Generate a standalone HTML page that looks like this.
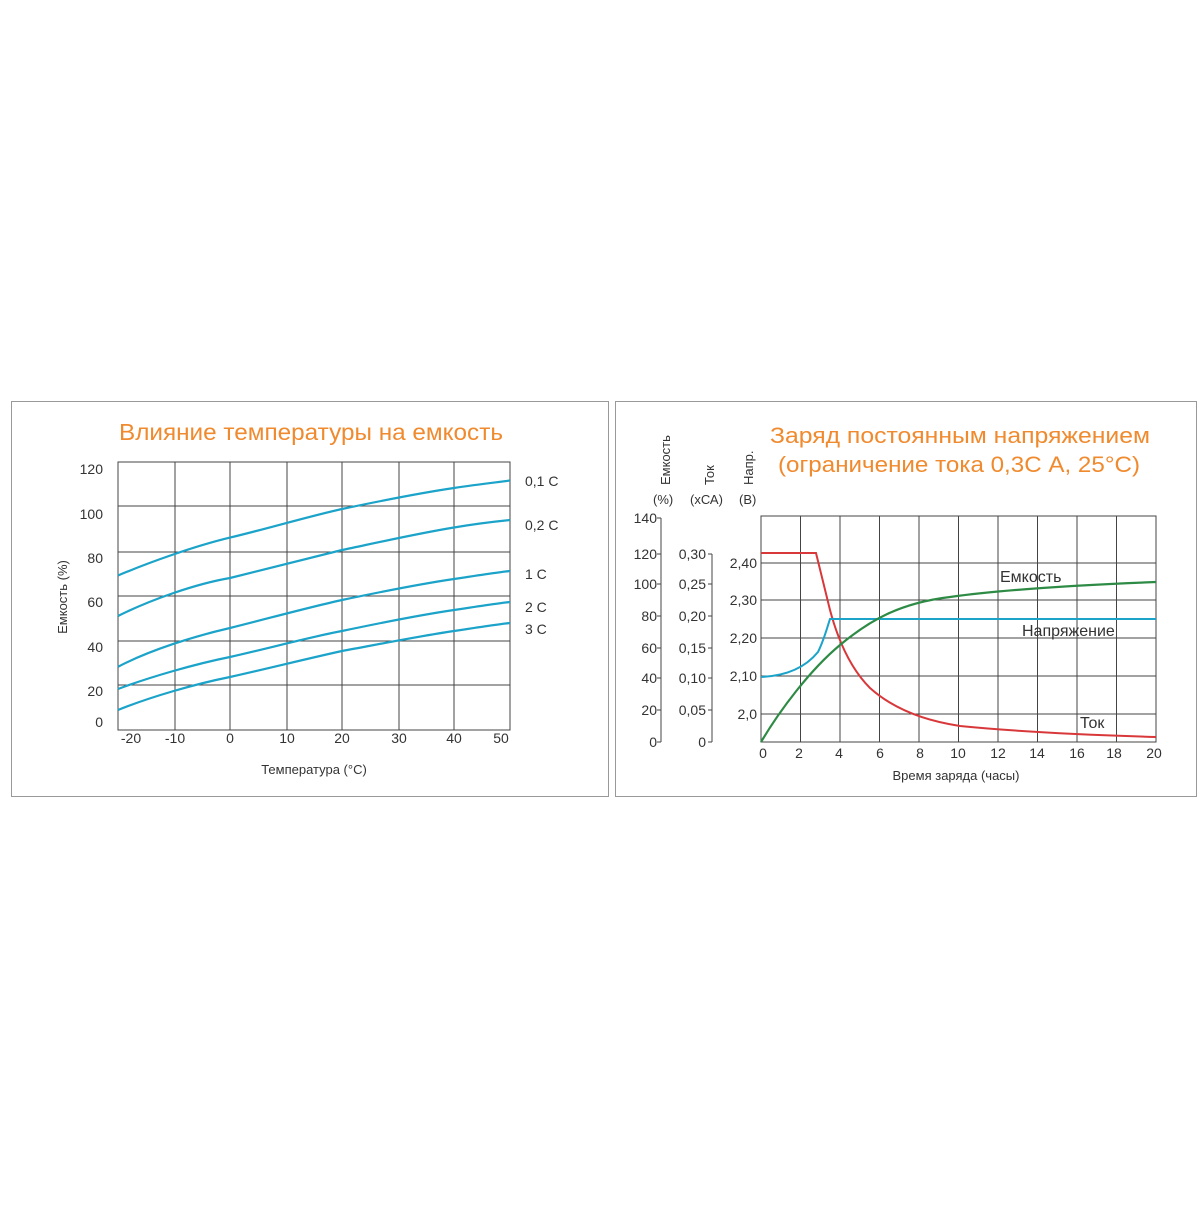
<!DOCTYPE html>
<html><head><meta charset="utf-8"><style>html,body{margin:0;padding:0;background:#fff}</style></head>
<body>
<svg width="1200" height="1200" viewBox="0 0 1200 1200" xmlns="http://www.w3.org/2000/svg" font-family="Liberation Sans, DejaVu Sans, sans-serif" fill="#333">
<rect x="11.5" y="401.5" width="597" height="395" fill="none" stroke="#999"/>
<rect x="615.5" y="401.5" width="581" height="395" fill="none" stroke="#999"/>
<text x="119" y="440" font-size="23" fill="#F08A2E" textLength="384" lengthAdjust="spacingAndGlyphs">Влияние температуры на емкость</text>
<g stroke="#444" stroke-width="1" fill="none">
<rect x="118" y="462" width="392" height="268"/>
<path d="M175 462V730M230 462V730M287 462V730M342 462V730M399 462V730M454 462V730"/>
<path d="M118 506H510M118 552H510M118 596H510M118 641H510M118 685H510"/>
</g>
<g stroke="#1ba3c9" stroke-width="2.2" fill="none">
<path d="M118 575.5C150 562 195 546 230 537.6C270 528 310 516 342 509C380 501 420 493 454 488C480 484 500 482 510 480.5"/>
<path d="M118 616C150 600 195 584 230 578C270 568 310 558 342 550C380 542 420 533 454 527.5C480 523 500 521 510 520"/>
<path d="M118 666.8C150 650 195 636 230 628C270 618 310 607 342 600C380 592 420 584 454 579C480 575 500 572 510 571"/>
<path d="M118 689C150 677 195 664 230 657C270 648 310 637 342 631C380 623 420 615 454 610C480 606 500 603 510 602"/>
<path d="M118 710C150 697 195 684 230 677C270 668 310 658 342 651C380 644 420 636 454 631C480 627 500 624 510 623"/>
</g>
<g font-size="14" text-anchor="end">
<text x="103" y="474">120</text><text x="103" y="519">100</text><text x="103" y="563">80</text><text x="103" y="607">60</text><text x="103" y="652">40</text><text x="103" y="696">20</text><text x="103" y="727">0</text>
</g>
<g font-size="14" text-anchor="middle">
<text x="131" y="743">-20</text><text x="175" y="743">-10</text><text x="230" y="743">0</text><text x="287" y="743">10</text><text x="342" y="743">20</text><text x="399" y="743">30</text><text x="454" y="743">40</text><text x="501" y="743">50</text>
</g>
<text x="314" y="774" font-size="13" text-anchor="middle">Температура (°C)</text>
<text transform="translate(67 597) rotate(-90)" font-size="13" text-anchor="middle">Емкость (%)</text>
<g font-size="14">
<text x="525" y="486">0,1 C</text><text x="525" y="530">0,2 C</text><text x="525" y="579">1 C</text><text x="525" y="612">2 C</text><text x="525" y="634">3 C</text>
</g>
<text x="770" y="443" font-size="22" fill="#F08A2E" textLength="380" lengthAdjust="spacingAndGlyphs">Заряд постоянным напряжением</text>
<text x="778" y="472" font-size="22" fill="#F08A2E" textLength="362" lengthAdjust="spacingAndGlyphs">(ограничение тока 0,3С А, 25°С)</text>
<g font-size="13">
<text transform="translate(670 485) rotate(-90)">Емкость</text>
<text transform="translate(714 485) rotate(-90)">Ток</text>
<text transform="translate(753 485) rotate(-90)">Напр.</text>
<text x="653" y="504">(%)</text><text x="690" y="504">(хСА)</text><text x="739" y="504">(В)</text>
</g>
<g stroke="#444" stroke-width="1" fill="none">
<path d="M661 518V742M657 518H661M657 554H661M657 584H661M657 616H661M657 648H661M657 678H661M657 710H661M657 742H661"/>
<path d="M712 554V742M708 554H712M708 584H712M708 616H712M708 648H712M708 678H712M708 710H712M708 742H712"/>
<rect x="761" y="516" width="395" height="226"/>
<path d="M800.5 516V742M840 516V742M879.5 516V742M919 516V742M958.5 516V742M998 516V742M1037.5 516V742M1077 516V742M1116.5 516V742"/>
<path d="M761 563H1156M761 600H1156M761 638H1156M761 676H1156M761 714H1156"/>
</g>
<g font-size="14" text-anchor="end">
<text x="657" y="523">140</text><text x="657" y="559">120</text><text x="657" y="589">100</text><text x="657" y="621">80</text><text x="657" y="653">60</text><text x="657" y="683">40</text><text x="657" y="715">20</text><text x="657" y="747">0</text>
<text x="706" y="559">0,30</text><text x="706" y="589">0,25</text><text x="706" y="621">0,20</text><text x="706" y="653">0,15</text><text x="706" y="683">0,10</text><text x="706" y="715">0,05</text><text x="706" y="747">0</text>
<text x="757" y="568">2,40</text><text x="757" y="605">2,30</text><text x="757" y="643">2,20</text><text x="757" y="681">2,10</text><text x="757" y="719">2,0</text>
</g>
<g font-size="14" text-anchor="middle">
<text x="763" y="758">0</text><text x="799" y="758">2</text><text x="839" y="758">4</text><text x="880" y="758">6</text><text x="920" y="758">8</text><text x="958" y="758">10</text><text x="998" y="758">12</text><text x="1037" y="758">14</text><text x="1077" y="758">16</text><text x="1114" y="758">18</text><text x="1154" y="758">20</text>
</g>
<text x="956" y="780" font-size="13" text-anchor="middle">Время заряда (часы)</text>
<path d="M761 553H816C820 570 825 590 830 610C838 640 850 668 870 688C890 706 920 720 960 726C1020 732 1090 735 1156 737" stroke="#d9383a" stroke-width="2" fill="none"/>
<path d="M761 677C785 676 805 668 818 652C824 640 827 628 830 619H1156" stroke="#1ba3c9" stroke-width="2" fill="none"/>
<path d="M761 742C780 710 810 670 840 645C870 620 900 603 950 597C1000 590 1080 585 1156 582" stroke="#2e8b45" stroke-width="2.2" fill="none"/>
<g font-size="16">
<text x="1000" y="582">Емкость</text><text x="1022" y="636">Напряжение</text><text x="1080" y="728">Ток</text>
</g>
</svg>
</body></html>
